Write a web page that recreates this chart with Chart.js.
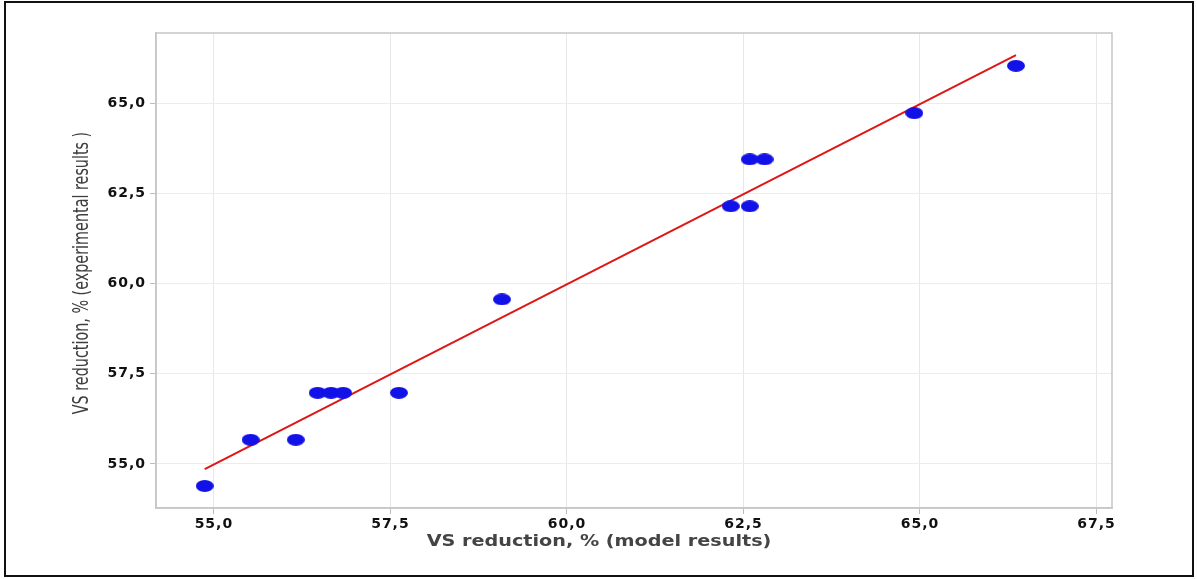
<!DOCTYPE html>
<html>
<head>
<meta charset="utf-8">
<script src="https://cdn.jsdelivr.net/npm/chart.js@4.4.1/dist/chart.umd.min.js"></script>
<style>
  html, body { margin: 0; padding: 0; background: #fff; }
  #wrap { position: relative; width: 1197px; height: 579px; }
  #frame { position: absolute; left: 4px; top: 1px; width: 1186px; height: 572px;
           border: 2px solid #111; pointer-events: none; }
  canvas { display: block; }
</style>
</head>
<body>
<div id="wrap">
  <canvas id="c" width="1197" height="579"></canvas>
  <div id="frame"></div>
</div>
<script>
// Model vs. experimental VS reduction (%)
const modelVS = [54.87, 55.52, 56.16, 56.47, 56.66, 56.83, 57.62, 59.08, 62.32, 62.59, 62.59, 62.80, 64.92, 66.36];
const experimentalVS = [54.39, 55.67, 55.67, 56.97, 56.97, 56.97, 56.97, 59.56, 62.14, 62.14, 63.44, 63.44, 64.72, 66.03];

// Fitted trend line end points
const fitX = [54.87, 66.36];
const fitY = [54.86, 66.33];

// Axis ticks and their printed labels
const xTickValues = [55, 57.5, 60, 62.5, 65, 67.5];
const xTickLabels = ['55,0', '57,5', '60,0', '62,5', '65,0', '67,5'];
const yTickValues = [55, 57.5, 60, 62.5, 65];
const yTickLabels = ['55,0', '57,5', '60,0', '62,5', '65,0'];

const xTitle = 'VS reduction, % (model results)';
const yTitle = 'VS reduction, % (experimental results )';

// Oval marker used for the data points
function ovalMarker(w, h, color) {
  const c = document.createElement('canvas');
  c.width = w; c.height = h;
  const g = c.getContext('2d');
  g.fillStyle = color;
  g.beginPath();
  g.ellipse(w / 2, h / 2, w / 2, h / 2, 0, 0, Math.PI * 2);
  g.fill();
  return c;
}

const pointData = modelVS.map((x, i) => ({ x, y: experimentalVS[i] }));
const lineData = fitX.map((x, i) => ({ x, y: fitY[i] }));

// Frame around the plot area plus the two axis titles
const decorations = {
  id: 'decorations',
  beforeDraw(chart) {
    // slightly spaced-out tick numbers
    chart.ctx.letterSpacing = '1px';
  },
  beforeDatasetsDraw(chart) {
    const { ctx, chartArea: a } = chart;
    ctx.save();
    ctx.strokeStyle = '#c6c6c6';
    ctx.lineWidth = 1.5;
    ctx.strokeRect(a.left, a.top, a.right - a.left, a.bottom - a.top);
    ctx.restore();
  },
  afterDraw(chart) {
    const { ctx } = chart;
    ctx.letterSpacing = '0px';
    ctx.save();
    ctx.fillStyle = '#444';
    ctx.font = 'bold 16px "DejaVu Sans"';
    ctx.textAlign = 'center';
    ctx.textBaseline = 'middle';
    ctx.translate(599, 542);
    ctx.scale(1.2, 1);
    ctx.fillText(xTitle, 0, 0);
    ctx.restore();

    ctx.save();
    ctx.fillStyle = '#3e3e3e';
    ctx.font = '21px "DejaVu Sans Condensed", "DejaVu Sans", sans-serif';
    ctx.textAlign = 'center';
    ctx.textBaseline = 'middle';
    ctx.translate(83, 273);
    ctx.rotate(-Math.PI / 2);
    ctx.scale(0.76, 1);
    ctx.fillText(yTitle, 0, 0);
    ctx.restore();
  }
};

const tickFont = { family: '"DejaVu Sans"', size: 14, weight: 'bold' };

new Chart(document.getElementById('c'), {
  type: 'scatter',
  data: {
    datasets: [
      {
        label: 'fit',
        data: lineData,
        showLine: true,
        borderColor: 'rgb(222,22,22)',
        borderWidth: 2,
        pointRadius: 0,
        order: 2
      },
      {
        label: 'VS reduction',
        data: pointData,
        pointStyle: ovalMarker(18, 12, 'rgb(18,18,232)'),
        order: 1
      }
    ]
  },
  options: {
    responsive: false,
    animation: false,
    devicePixelRatio: 1,
    layout: { padding: { left: 0, top: 33, right: 85, bottom: 0 } },
    plugins: { legend: { display: false }, tooltip: { enabled: false } },
    scales: {
      x: {
        type: 'linear',
        min: 54.18,
        max: 67.72,
        afterFit(s) { s.height = 71; },
        afterBuildTicks(s) { s.ticks = xTickValues.map(v => ({ value: v })); },
        ticks: {
          color: '#111',
          font: tickFont,
          padding: 2,
          callback: (v) => xTickLabels[xTickValues.indexOf(v)]
        },
        grid: { color: '#e8e8e8', tickColor: '#bcbcbc', tickLength: 6, lineWidth: 1 },
        border: { color: '#c6c6c6', width: 1.5 }
      },
      y: {
        type: 'linear',
        min: 53.78,
        max: 66.94,
        afterFit(s) { s.width = 156; },
        afterBuildTicks(s) { s.ticks = yTickValues.map(v => ({ value: v })); },
        ticks: {
          color: '#111',
          font: tickFont,
          padding: 4,
          callback: (v) => yTickLabels[yTickValues.indexOf(v)]
        },
        grid: { color: '#ececec', tickColor: '#bcbcbc', tickLength: 6, lineWidth: 1 },
        border: { color: '#c6c6c6', width: 1.5 }
      }
    }
  },
  plugins: [decorations]
});
</script>
</body>
</html>
